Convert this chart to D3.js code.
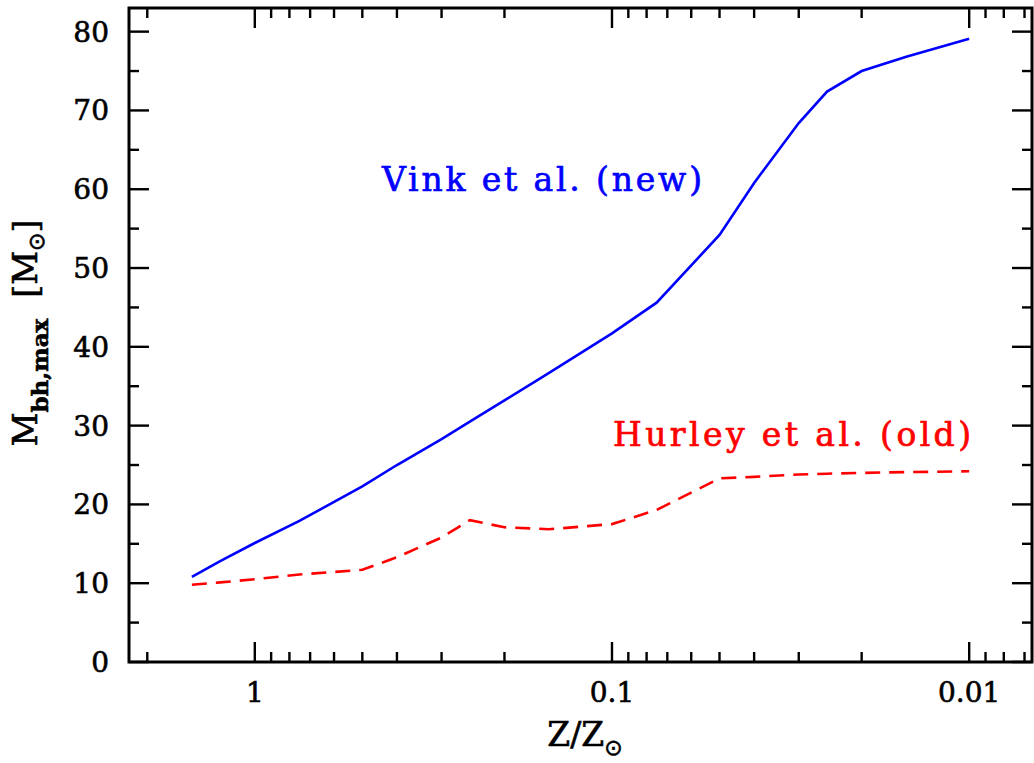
<!DOCTYPE html>
<html>
<head>
<meta charset="utf-8">
<script src="https://cdn.jsdelivr.net/npm/d3@7"></script>
<style>
  body { margin:0; background:#fff; }
  text { font-family:"DejaVu Serif", serif; }
</style>
</head>
<body>
<svg id="chart" width="1034" height="763"></svg>
<script>
// metallicity grid (Z/Zsun) and max BH mass for both wind prescriptions
var metallicity = [1.5,1.25,1,0.75,0.5,0.4,0.3,0.25,0.2,0.15,0.1,0.075,0.05,0.04,0.03,0.025,0.02,0.015,0.01];
var vinkMass    = [10.8,12.8,15.1,17.9,22.3,25.0,28.3,30.5,33.2,36.7,41.7,45.6,54.2,60.8,68.4,72.4,75.0,76.8,79.1];
var hurleyMass  = [9.8,10.1,10.5,11.1,11.7,13.3,15.8,18.0,17.1,16.85,17.5,19.3,23.3,23.5,23.8,23.9,24.0,24.1,24.2];
var xTickLabels = [1,0.1,0.01];
var yTickLabels = [0,10,20,30,40,50,60,70,80];

var svg = d3.select("#chart");
var pl=129, pr=1032, pt=8, pb=662; // plot box (window.top is reserved, so no "top")

var x = d3.scaleLog().domain([2.25,0.00667]).range([pl,pr]);
var y = d3.scaleLinear().domain([0,83]).range([pb,pt]);

// minor ticks: 2..9 in each decade
var minorX=[];
[0.001,0.01,0.1,1].forEach(function(d){
    for(var k=2;k<=9;k++){
        var v=d*k;
        if(v<=2.25 && v>=0.00667) minorX.push(v);
    }
});
var minorY=[];
for(var v=5;v<83;v+=10) minorY.push(v);

var g = svg.append("g").attr("stroke","#000").attr("stroke-width",2.4);

// bottom + top ticks, pointing in
xTickLabels.forEach(function(d){
    g.append("line").attr("x1",x(d)).attr("x2",x(d)).attr("y1",pb).attr("y2",pb-20);
    g.append("line").attr("x1",x(d)).attr("x2",x(d)).attr("y1",pt).attr("y2",pt+20);
});
minorX.forEach(function(d){
    g.append("line").attr("x1",x(d)).attr("x2",x(d)).attr("y1",pb).attr("y2",pb-10);
    g.append("line").attr("x1",x(d)).attr("x2",x(d)).attr("y1",pt).attr("y2",pt+10);
});
// left + right ticks
yTickLabels.forEach(function(d){
    g.append("line").attr("y1",y(d)).attr("y2",y(d)).attr("x1",pl).attr("x2",pl+20);
    g.append("line").attr("y1",y(d)).attr("y2",y(d)).attr("x1",pr).attr("x2",pr-20);
});
minorY.forEach(function(d){
    g.append("line").attr("y1",y(d)).attr("y2",y(d)).attr("x1",pl).attr("x2",pl+10);
    g.append("line").attr("y1",y(d)).attr("y2",y(d)).attr("x1",pr).attr("x2",pr-10);
});

// frame
svg.append("rect").attr("x",pl).attr("y",pt).attr("width",pr-pl).attr("height",pb-pt)
    .attr("fill","none").attr("stroke","#000").attr("stroke-width",3);

// tick labels
svg.selectAll(".xl").data(xTickLabels).enter().append("text")
    .attr("x",function(d){return x(d);}).attr("y",702)
    .attr("text-anchor","middle").attr("font-size",28)
    .attr("stroke","#000").attr("stroke-width",0.6)
    .text(function(d){return d;});
svg.selectAll(".yl").data(yTickLabels).enter().append("text")
    .attr("x",109).attr("y",function(d){return y(d)+10;})
    .attr("text-anchor","end").attr("font-size",28)
    .attr("stroke","#000").attr("stroke-width",0.6)
    .text(function(d){return d;});

// curves
var line = d3.line()
    .x(function(d){return x(d[0]);})
    .y(function(d){return y(d[1]);});

svg.append("path").datum(d3.zip(metallicity,vinkMass))
    .attr("d",line).attr("fill","none").attr("stroke","#0000ff").attr("stroke-width",2.6);
svg.append("path").datum(d3.zip(metallicity,hurleyMass))
    .attr("d",line).attr("fill","none").attr("stroke","#ff0000").attr("stroke-width",2.6)
    .attr("stroke-dasharray","15,9");

// curve labels
svg.append("text").attr("x",382).attr("y",191).attr("font-size",33)
    .attr("textLength",320).attr("lengthAdjust","spacing")
    .attr("fill","#0000ff").attr("stroke","#0000ff").attr("stroke-width",0.7)
    .text("Vink et al. (new)");
svg.append("text").attr("x",613).attr("y",446).attr("font-size",33)
    .attr("textLength",358).attr("lengthAdjust","spacing")
    .attr("fill","#ff0000").attr("stroke","#ff0000").attr("stroke-width",0.7)
    .text("Hurley et al. (old)");

// axis titles
var xt = svg.append("text").attr("x",585).attr("y",746).attr("text-anchor","middle").attr("font-size",33)
    .attr("stroke","#000").attr("stroke-width",0.6);
xt.append("tspan").text("Z/Z");
xt.append("tspan").attr("font-size",22).attr("dy",9).attr("font-family","DejaVu Sans").text("\u2299");

var yt = svg.append("text").attr("transform","translate(37,333) rotate(-90)")
    .attr("text-anchor","middle").attr("font-size",33)
    .attr("stroke","#000").attr("stroke-width",0.6);
yt.append("tspan").text("M");
yt.append("tspan").attr("font-size",23).attr("font-weight","bold").attr("dy",11).text("bh,max");
yt.append("tspan").attr("dy",-11).text("\u00a0\u00a0[M");
yt.append("tspan").attr("font-size",22).attr("dy",7).attr("font-family","DejaVu Sans").text("\u2299");
yt.append("tspan").attr("dy",-7).text("]");
</script>
</body>
</html>
